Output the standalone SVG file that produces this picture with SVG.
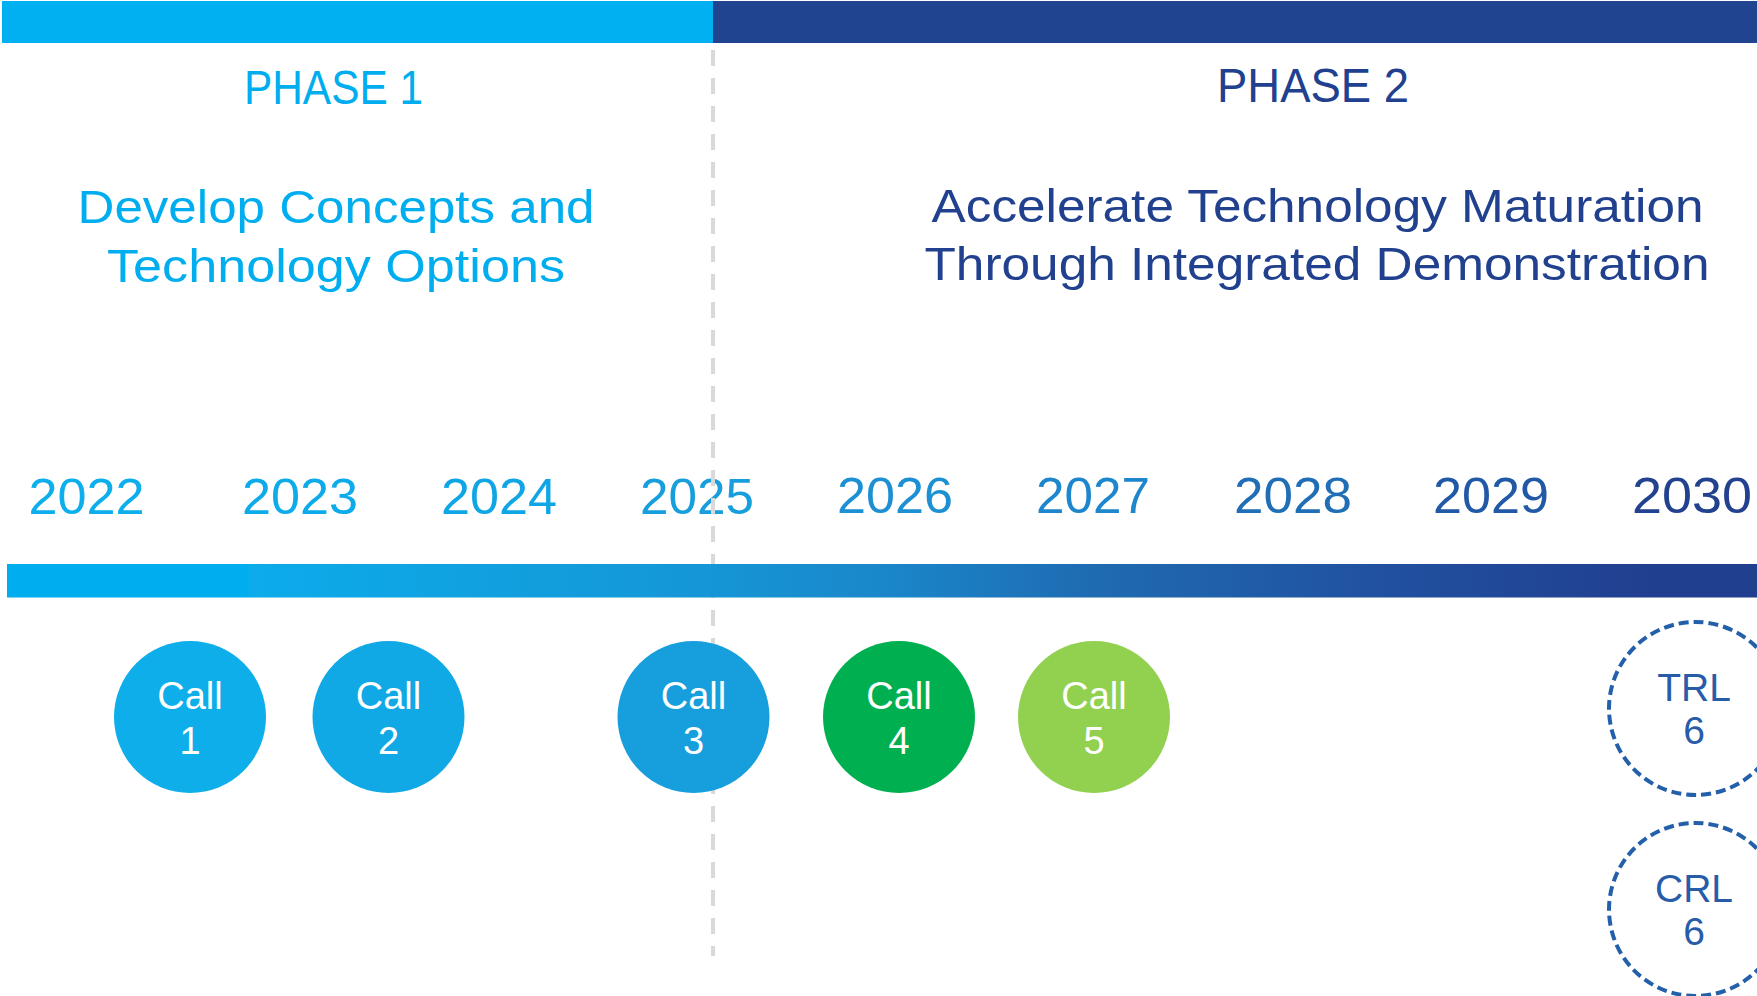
<svg xmlns="http://www.w3.org/2000/svg" width="1757" height="996" viewBox="0 0 1757 996">
<defs>
<linearGradient id="barGrad" gradientUnits="userSpaceOnUse" x1="7" y1="0" x2="1757" y2="0">
<stop offset="0" stop-color="#00AEEF"/>
<stop offset="0.137" stop-color="#00AEEF"/>
<stop offset="0.14" stop-color="#0CABEA"/>
<stop offset="0.40" stop-color="#1596D6"/>
<stop offset="0.50" stop-color="#1A87CA"/>
<stop offset="0.62" stop-color="#1F6BB2"/>
<stop offset="0.79" stop-color="#2150A0"/>
<stop offset="0.94" stop-color="#213F8F"/>
<stop offset="1" stop-color="#213F8F"/>
</linearGradient>
<style>
.t{font-family:"Liberation Sans",Arial,sans-serif;text-anchor:middle}
.ph1{fill:#00AEEF}
.ph2{fill:#21418F}
.yr{font-size:50px}
.call{font-size:38px;fill:#FFFFFF}
.lvl{font-size:39px;fill:#285CA8}
.ring{fill:#FFFFFF;stroke:#2460AA;stroke-width:4;stroke-dasharray:10 5}
</style>
</defs>
<rect width="1757" height="996" fill="#FFFFFF"/>

<g id="header-bar">
<rect x="2" y="1" width="712" height="42" fill="#00B0F0"/>
<rect x="713" y="1" width="1044" height="42" fill="#20448F"/>
</g>

<g id="phase1">
<text class="t ph1" x="333.5" y="104" font-size="49" textLength="179" lengthAdjust="spacingAndGlyphs">PHASE 1</text>
<text class="t ph1" x="336" y="223" font-size="47" textLength="517" lengthAdjust="spacingAndGlyphs">Develop Concepts and</text>
<text class="t ph1" x="336" y="282" font-size="47" textLength="458" lengthAdjust="spacingAndGlyphs">Technology Options</text>
</g>

<g id="phase2">
<text class="t ph2" x="1313" y="102" font-size="49" textLength="192" lengthAdjust="spacingAndGlyphs">PHASE 2</text>
<text class="t ph2" x="1317.5" y="222" font-size="47" textLength="772" lengthAdjust="spacingAndGlyphs">Accelerate Technology Maturation</text>
<text class="t ph2" x="1317" y="280" font-size="47" textLength="785" lengthAdjust="spacingAndGlyphs">Through Integrated Demonstration</text>
</g>

<g id="years">
<text class="t yr" x="86.6" y="514" fill="#0CAEEC" textLength="116" lengthAdjust="spacingAndGlyphs">2022</text>
<text class="t yr" x="300" y="514" fill="#0DABEA" textLength="116" lengthAdjust="spacingAndGlyphs">2023</text>
<text class="t yr" x="499" y="514" fill="#10A6E5" textLength="116" lengthAdjust="spacingAndGlyphs">2024</text>
<text class="t yr" x="697" y="514" fill="#179EDC" textLength="114" lengthAdjust="spacingAndGlyphs">2025</text>
<text class="t yr" x="895" y="513" fill="#1C90D3" textLength="116" lengthAdjust="spacingAndGlyphs">2026</text>
<text class="t yr" x="1093" y="513" fill="#1E86CC" textLength="114" lengthAdjust="spacingAndGlyphs">2027</text>
<text class="t yr" x="1293" y="513" fill="#1F6EB6" textLength="118" lengthAdjust="spacingAndGlyphs">2028</text>
<text class="t yr" x="1491" y="513" fill="#2159A7" textLength="116" lengthAdjust="spacingAndGlyphs">2029</text>
<text class="t yr" x="1692" y="513" fill="#22418F" textLength="120" lengthAdjust="spacingAndGlyphs">2030</text>
</g>

<g id="connectors">
<line id="phase-divider" x1="713" y1="50" x2="713" y2="956" stroke="#D9D9D9" stroke-width="4" stroke-dasharray="16 12"/>
</g>

<g id="timeline-bar">
<rect x="7" y="564" width="1750" height="33.5" fill="url(#barGrad)"/>
</g>

<g id="call1">
<circle cx="190" cy="717" r="76" fill="#0DAEEA"/>
<text class="t call" x="190" y="709">Call</text>
<text class="t call" x="190" y="754">1</text>
</g>
<g id="call2">
<circle cx="388.5" cy="717" r="76" fill="#11A8E6"/>
<text class="t call" x="388.5" y="709">Call</text>
<text class="t call" x="388.5" y="754">2</text>
</g>
<g id="call3">
<circle cx="693.5" cy="717" r="76" fill="#179EDD"/>
<text class="t call" x="693.5" y="709">Call</text>
<text class="t call" x="693.5" y="754">3</text>
</g>
<g id="call4">
<circle cx="899" cy="717" r="76" fill="#00B050"/>
<text class="t call" x="899" y="709">Call</text>
<text class="t call" x="899" y="754">4</text>
</g>
<g id="call5">
<circle cx="1094" cy="717" r="76" fill="#92D050"/>
<text class="t call" x="1094" y="709">Call</text>
<text class="t call" x="1094" y="754">5</text>
</g>

<g id="trl6">
<circle class="ring" cx="1695.5" cy="708.5" r="86.5"/>
<text class="t lvl" x="1694" y="701">TRL</text>
<text class="t lvl" x="1694" y="744">6</text>
</g>
<g id="crl6">
<circle class="ring" cx="1695.5" cy="909.5" r="86.5"/>
<text class="t lvl" x="1694" y="902">CRL</text>
<text class="t lvl" x="1694" y="945">6</text>
</g>
</svg>
